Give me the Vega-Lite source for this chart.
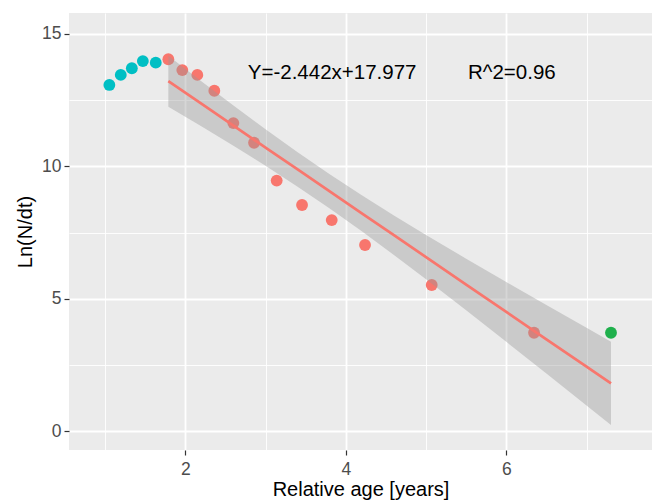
{
  "$schema": "https://vega.github.io/schema/vega-lite/v6.json",
  "width": 583,
  "height": 437,
  "autosize": {"type": "none"},
  "padding": {"left": 69, "top": 13, "right": 2, "bottom": 53},
  "background": "white",
  "config": {
    "view": {"fill": "#EBEBEB", "stroke": null},
    "font": "Liberation Sans"
  },
  "datasets": {
    "points": [
      {"x": 1.054, "y": 13.07, "g": "a"},
      {"x": 1.196, "y": 13.45, "g": "a"},
      {"x": 1.334, "y": 13.70, "g": "a"},
      {"x": 1.471, "y": 13.97, "g": "a"},
      {"x": 1.632, "y": 13.91, "g": "a"},
      {"x": 1.789, "y": 14.04, "g": "b"},
      {"x": 1.963, "y": 13.63, "g": "b"},
      {"x": 2.150, "y": 13.45, "g": "b"},
      {"x": 2.362, "y": 12.85, "g": "b"},
      {"x": 2.599, "y": 11.63, "g": "b"},
      {"x": 2.857, "y": 10.89, "g": "b"},
      {"x": 3.139, "y": 9.46, "g": "b"},
      {"x": 3.455, "y": 8.54, "g": "b"},
      {"x": 3.825, "y": 7.97, "g": "b"},
      {"x": 4.240, "y": 7.03, "g": "b"},
      {"x": 5.071, "y": 5.52, "g": "b"},
      {"x": 6.346, "y": 3.72, "g": "b"},
      {"x": 7.305, "y": 3.72, "g": "c"}
    ],
    "band": [
      {"x": 1.789, "y": 13.210, "lo": 12.249, "hi": 14.171},
      {"x": 2.2, "y": 12.361, "lo": 11.512, "hi": 13.210},
      {"x": 2.6, "y": 11.534, "lo": 10.778, "hi": 12.290},
      {"x": 3.0, "y": 10.707, "lo": 10.020, "hi": 11.394},
      {"x": 3.4, "y": 9.880, "lo": 9.232, "hi": 10.528},
      {"x": 3.8, "y": 9.053, "lo": 8.407, "hi": 9.699},
      {"x": 4.2, "y": 8.227, "lo": 7.547, "hi": 8.907},
      {"x": 4.6, "y": 7.400, "lo": 6.653, "hi": 8.147},
      {"x": 5.0, "y": 6.573, "lo": 5.736, "hi": 7.410},
      {"x": 5.5, "y": 5.539, "lo": 4.565, "hi": 6.513},
      {"x": 6.0, "y": 4.506, "lo": 3.378, "hi": 5.634},
      {"x": 6.5, "y": 3.472, "lo": 2.179, "hi": 4.765},
      {"x": 7.0, "y": 2.439, "lo": 0.974, "hi": 3.904},
      {"x": 7.305, "y": 1.809, "lo": 0.236, "hi": 3.382}
    ],
    "labels": [
      {"x": 3.83, "y": 13.52, "t": "Y=-2.442x+17.977"},
      {"x": 6.07, "y": 13.52, "t": "R^2=0.96"}
    ]
  },
  "encoding": {
    "x": {
      "field": "x", "type": "quantitative",
      "scale": {"domain": [0.551, 7.816], "nice": false, "zero": false},
      "title": "Relative age [years]",
      "axis": {
        "values": [1, 2, 3, 4, 5, 6, 7],
        "labelExpr": "datum.value % 2 === 0 ? datum.label : ''",
        "domain": false,
        "gridColor": "white",
        "gridWidth": {"condition": {"test": "datum.value % 2 === 1", "value": 0.9}, "value": 1.8},
        "tickOpacity": {"condition": {"test": "datum.value % 2 === 1", "value": 0}, "value": 1},
        "tickColor": "#333333",
        "tickSize": 5,
        "tickWidth": 1.2,
        "labelColor": "#4D4D4D",
        "labelFontSize": 17.5,
        "labelPadding": 5,
        "labelFont": "Liberation Sans",
        "titleFont": "Liberation Sans",
        "titleFontSize": 20,
        "titleFontWeight": "normal",
        "titleColor": "black",
        "titlePadding": 2
      }
    },
    "y": {
      "field": "y", "type": "quantitative",
      "scale": {"domain": [-0.706, 15.785], "nice": false, "zero": false},
      "title": "Ln(N/dt)",
      "axis": {
        "values": [0, 2.5, 5, 7.5, 10, 12.5, 15],
        "labelExpr": "datum.value % 5 === 0 ? datum.label : ''",
        "domain": false,
        "gridColor": "white",
        "gridWidth": {"condition": {"test": "datum.value % 5 !== 0", "value": 0.9}, "value": 1.8},
        "tickOpacity": {"condition": {"test": "datum.value % 5 !== 0", "value": 0}, "value": 1},
        "tickColor": "#333333",
        "tickSize": 5,
        "tickWidth": 1.2,
        "labelColor": "#4D4D4D",
        "labelFontSize": 17.5,
        "labelPadding": 3,
        "labelFont": "Liberation Sans",
        "titleFont": "Liberation Sans",
        "titleFontSize": 20,
        "titleFontWeight": "normal",
        "titleColor": "black",
        "titlePadding": 6
      }
    }
  },
  "layer": [
    {
      "data": {"name": "points"},
      "mark": {"type": "circle", "opacity": 1, "size": 140},
      "encoding": {
        "color": {
          "field": "g", "type": "nominal",
          "scale": {"domain": ["a", "b", "c"], "range": ["#00BFC4", "#F8766D", "#1FB04C"]},
          "legend": null
        }
      }
    },
    {
      "data": {"name": "band"},
      "mark": {"type": "area", "color": "#999999", "opacity": 0.4},
      "encoding": {
        "y": {
          "field": "lo", "type": "quantitative",
          "scale": {"domain": [-0.706, 15.785], "nice": false, "zero": false},
          "title": "Ln(N/dt)"
        },
        "y2": {"field": "hi"}
      }
    },
    {
      "data": {"name": "band"},
      "mark": {"type": "line", "color": "#F8766D", "strokeWidth": 2.7},
      "encoding": {}
    },
    {
      "data": {"name": "labels"},
      "mark": {"type": "text", "fontSize": 20.5, "font": "Liberation Sans", "color": "black", "align": "center", "baseline": "middle"},
      "encoding": {"text": {"field": "t"}}
    }
  ]
}
